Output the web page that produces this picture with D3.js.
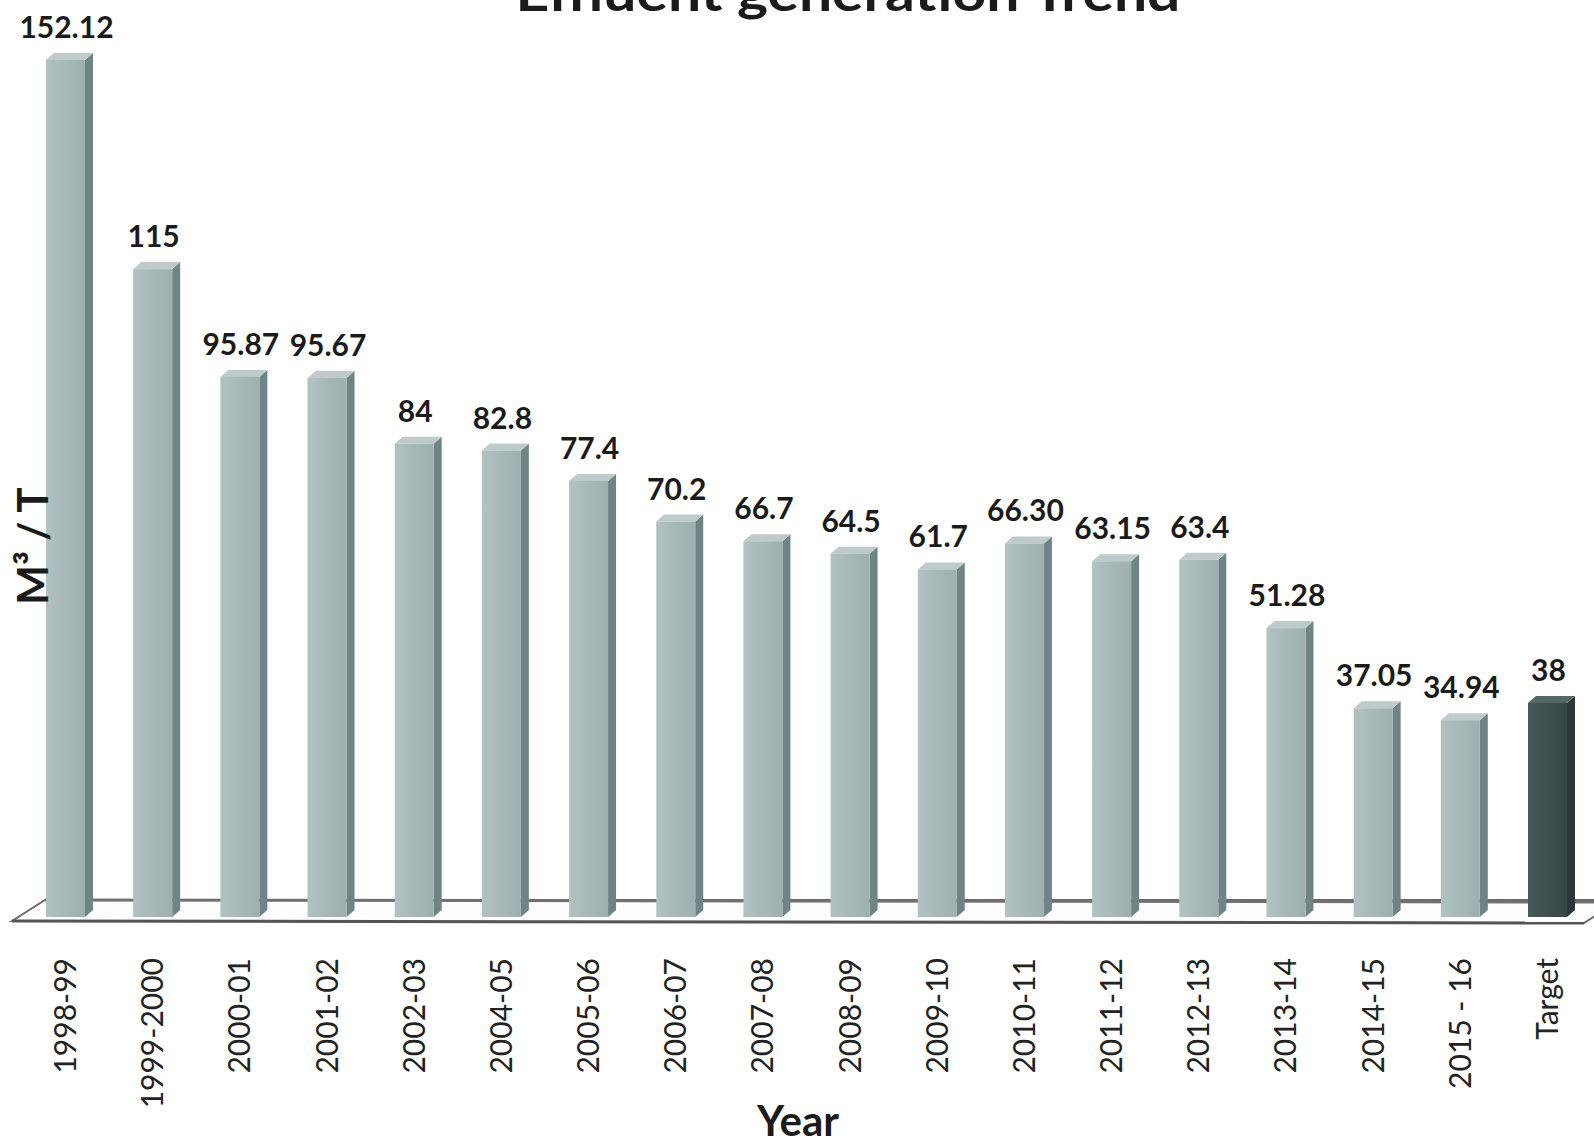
<!DOCTYPE html>
<html>
<head>
<meta charset="utf-8">
<script src="https://cdn.jsdelivr.net/npm/d3@7"></script>
<style>
html,body{margin:0;padding:0;background:#fff;}
svg{display:block;}
</style>
</head>
<body>
<svg id="chart" width="1594" height="1147"></svg>
<script>
const titleText = "Effluent generation Trend";
const yTitle = "M³ / T";
const xTitle = "Year";
const categories = ["1998-99","1999-2000","2000-01","2001-02","2002-03","2004-05","2005-06","2006-07","2007-08","2008-09","2009-10","2010-11","2011-12","2012-13","2013-14","2014-15","2015 - 16","Target"];
const values = [152.12,115,95.87,95.67,84,82.8,77.4,70.2,66.7,64.5,61.7,66.30,63.15,63.4,51.28,37.05,34.94,38];
const valueLabels = ["152.12","115","95.87","95.67","84","82.8","77.4","70.2","66.7","64.5","61.7","66.30","63.15","63.4","51.28","37.05","34.94","38"];
const highlighted = ["Target"];

const svg = d3.select("#chart");
const W = 1594, H = 1147;

const x = d3.scaleBand().domain(categories).range([46, 1567]).paddingInner(0.5527).paddingOuter(0);
const y = d3.scaleLinear().domain([0, 152.12]).range([917, 60]);

const depthX = 8, depthY = 7;

const normal = {front:"#a8b8b8", side:"#6f8585", top:"#bfcaca"};
const dark = {front:"#3e504e", side:"#2a3937", top:"#566866"};

const defs = svg.append("defs");
function grad(id, c1, c2){
  const g = defs.append("linearGradient").attr("id", id).attr("x1","0").attr("x2","1").attr("y1","0").attr("y2","0");
  g.append("stop").attr("offset","0%").attr("stop-color", c1);
  g.append("stop").attr("offset","100%").attr("stop-color", c2);
}
grad("gN", "#b2c1c1", "#9eafaf");
grad("gD", "#465957", "#364846");

// floor
const floorBack = 900, floorFront = 921;
svg.append("path")
  .attr("d", `M12,${floorFront} L45,${floorBack} L1620,${floorBack} L1584,${floorFront+2} Z`)
  .attr("fill", "#fdfdfd").attr("stroke", "#6a6a6a").attr("stroke-width", 2);
svg.append("line").attr("x1", 12).attr("x2", 1584).attr("y1", floorFront).attr("y2", floorFront+2)
  .attr("stroke", "#555").attr("stroke-width", 3);
svg.append("line").attr("x1", 45).attr("x2", 1594).attr("y1", floorBack).attr("y2", floorBack+2)
  .attr("stroke", "#707070").attr("stroke-width", 3);

// bars
const bars = svg.append("g").selectAll("g").data(categories).join("g");
bars.each(function(c, i){
  const g = d3.select(this);
  const x0 = x(c), bw = x.bandwidth();
  const yt = y(values[i]), yb = y(0);
  const col = highlighted.includes(c) ? dark : normal;
  g.append("path")
    .attr("d", `M${x0+bw},${yt} L${x0+bw+depthX},${yt-depthY} L${x0+bw+depthX},${yb-depthY} L${x0+bw},${yb} Z`)
    .attr("fill", col.side);
  g.append("path")
    .attr("d", `M${x0},${yt} L${x0+depthX},${yt-depthY} L${x0+bw+depthX},${yt-depthY} L${x0+bw},${yt} Z`)
    .attr("fill", col.top);
  g.append("rect")
    .attr("x", x0).attr("y", yt).attr("width", bw).attr("height", yb-yt)
    .attr("fill", highlighted.includes(c) ? "url(#gD)" : "url(#gN)");
});

// value labels
svg.append("g").selectAll("text").data(categories).join("text")
  .attr("x", c => x(c) + x.bandwidth()/2 + 1)
  .attr("y", (c,i) => y(values[i]) - 22)
  .attr("text-anchor", "middle")
  .attr("font-family", "Lato, 'Open Sans', sans-serif")
  .attr("font-weight", "bold")
  .attr("font-size", 30)
  .attr("fill", "#1b1b1b")
  .text((c,i) => valueLabels[i]);

// category labels (rotated)
svg.append("g").selectAll("text").data(categories).join("text")
  .attr("transform", c => `translate(${x(c) + x.bandwidth()/2},958) rotate(-90)`)
  .attr("text-anchor", "end")
  .attr("dy", "0.35em")
  .attr("font-family", "Lato, 'Open Sans', sans-serif")
  .attr("font-size", 30)
  .attr("fill", "#222")
  .text(c => c);

// axis titles
svg.append("text")
  .attr("transform", "translate(48,546) rotate(-90)")
  .attr("text-anchor", "middle")
  .attr("font-family", "Lato, 'Open Sans', sans-serif")
  .attr("font-weight", "bold")
  .attr("font-size", 42)
  .attr("fill", "#1b1b1b")
  .text(yTitle);

svg.append("text")
  .attr("x", 798).attr("y", 1136)
  .attr("text-anchor", "middle")
  .attr("font-family", "Lato, 'Open Sans', sans-serif")
  .attr("font-weight", "bold")
  .attr("font-size", 42)
  .attr("fill", "#1b1b1b")
  .text(xTitle);

// title (cut off at the top like the reference)
svg.append("text")
  .attr("x", 848).attr("y", 11)
  .attr("text-anchor", "middle")
  .attr("font-family", "Lato, 'Open Sans', sans-serif")
  .attr("font-weight", "bold")
  .attr("font-size", 50)
  .attr("textLength", 665)
  .attr("lengthAdjust", "spacingAndGlyphs")
  .attr("fill", "#1b1b1b")
  .text(titleText);
</script>
</body>
</html>
